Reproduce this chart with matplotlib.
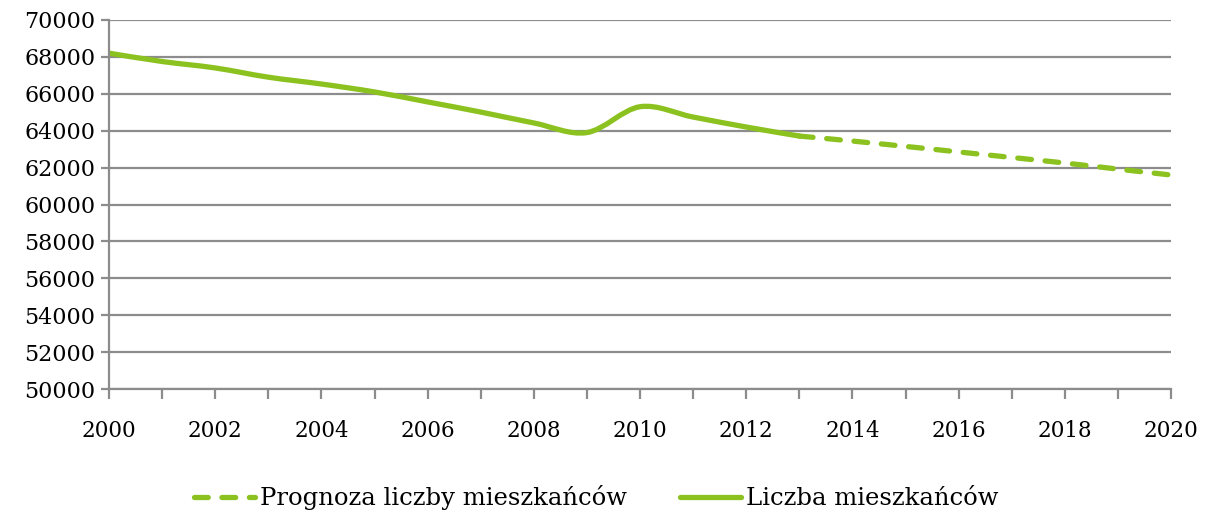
import numpy as np
import matplotlib
matplotlib.use("Agg")
import matplotlib.pyplot as plt
from matplotlib.path import Path
from matplotlib.patches import PathPatch
from matplotlib.lines import Line2D

# dane
lata = [2000, 2001, 2002, 2003, 2004, 2005, 2006, 2007, 2008, 2009, 2010, 2011, 2012, 2013]
mieszkancy = [68200, 67750, 67400, 66900, 66530, 66100, 65560, 65010, 64420, 63900, 65300, 64740, 64200, 63710]

lata_prog = [2013, 2014, 2015, 2016, 2017, 2018, 2019, 2020]
prognoza = [63710, 63440, 63150, 62850, 62550, 62250, 61920, 61600]

kolor = "#8cc21f"
szary = "#8c8c8c"

plt.rcParams['font.family'] = ['DejaVu Serif']


def gladka_sciezka(x, y):
    # wygladzanie jak w Excelu: krzywe Beziera przez punkty (Catmull-Rom)
    x = np.asarray(x, float)
    y = np.asarray(y, float)
    verts = [(x[0], y[0])]
    codes = [Path.MOVETO]
    n = len(x)
    for i in range(n - 1):
        x0, y0 = (x[i - 1], y[i - 1]) if i > 0 else (x[i], y[i])
        x3, y3 = (x[i + 2], y[i + 2]) if i + 2 < n else (x[i + 1], y[i + 1])
        c1 = (x[i] + (x[i + 1] - x0) / 6, y[i] + (y[i + 1] - y0) / 6)
        c2 = (x[i + 1] - (x3 - x[i]) / 6, y[i + 1] - (y3 - y[i]) / 6)
        verts += [c1, c2, (x[i + 1], y[i + 1])]
        codes += [Path.CURVE4] * 3
    return Path(verts, codes)


fig = plt.figure(figsize=(12.09, 5.12), dpi=100)
ax = fig.add_axes([0.0902, 0.240, 0.8784, 0.721])

ax.set_xlim(2000, 2020)
ax.set_ylim(50000, 70000)
ax.set_yticks(np.arange(50000, 70001, 2000))
ax.set_xticks(np.arange(2000, 2021, 2))
ax.set_xticks(np.arange(2000, 2021, 1), minor=True)

ax.grid(axis='y', color=szary, linewidth=1.6)
ax.set_axisbelow(True)
for s in ['top', 'right']:
    ax.spines[s].set_visible(False)
for s in ['left', 'bottom']:
    ax.spines[s].set_color(szary)
    ax.spines[s].set_linewidth(1.6)

ax.tick_params(axis='both', which='both', color=szary, width=1.6, labelsize=16)
ax.tick_params(axis='x', which='both', length=7, pad=15, labelsize=15.5)
ax.tick_params(axis='y', length=6, pad=4)

p1 = PathPatch(gladka_sciezka(lata, mieszkancy), fill=False, edgecolor=kolor,
               linewidth=3.8, capstyle='round', joinstyle='round')
ax.add_patch(p1)
p2 = PathPatch(gladka_sciezka(lata_prog, prognoza), fill=False, edgecolor=kolor,
               linewidth=3.8, linestyle=(0, (2.6, 2.6)), capstyle='round')
ax.add_patch(p2)

uchwyty = [Line2D([], [], color=kolor, lw=3.8, linestyle=(0, (2.6, 2.6)), dash_capstyle='round'),
           Line2D([], [], color=kolor, lw=3.8, solid_capstyle='round')]
fig.legend(uchwyty, ['Prognoza liczby mieszkańców', 'Liczba mieszkańców'],
           loc='center', bbox_to_anchor=(0.493, 0.028), ncol=2, frameon=False,
           fontsize=17.5, handlelength=2.5, handletextpad=0.2, columnspacing=2.2)

fig.savefig("out.png", dpi=100)
